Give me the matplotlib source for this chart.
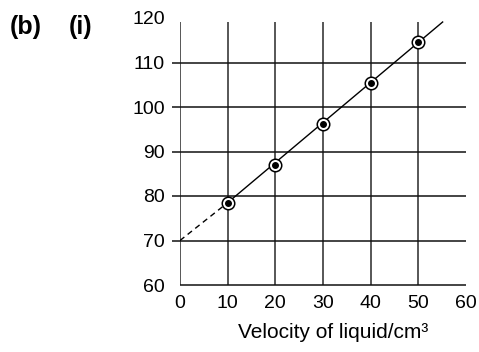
import matplotlib
matplotlib.use("Agg")
import matplotlib.pyplot as plt
import numpy as np

plt.rcParams['font.family'] = ['Liberation Sans', 'DejaVu Sans']

x_ticks = [0, 10, 20, 30, 40, 50, 60]
y_ticks = [60, 70, 80, 90, 100, 110, 120]
vel = [10, 20, 30, 40, 50]
vals = [78.5, 87.0, 96.2, 105.5, 114.5]
line_x = [10, 55.1]
line_y = [78.5, 119.1]
extrap_x = [0, 10]
extrap_y = [70, 78.5]

fig = plt.figure(figsize=(4.79, 3.52), dpi=100)
ax = fig.add_axes([180/479, 67/352, 286/479, 267/352])
ax.set_xlim(0, 60)
ax.set_ylim(60, 120)
for s in ax.spines.values():
    s.set_visible(False)

ytop = 119.1
# vertical grid lines
for xv in x_ticks[:-1]:
    ax.plot([xv, xv], [60, ytop], color='#3a3a3a', lw=1.2, zorder=1, solid_capstyle='butt')
# horizontal grid lines
for yv in y_ticks[:-1]:
    x0 = 0 if yv == 60 else -1.7
    ax.plot([x0, 60], [yv, yv], color='#111111', lw=1.1, zorder=1, clip_on=False, solid_capstyle='butt')

ax.plot(line_x, line_y, color='black', lw=1.0, zorder=2)
ax.plot(extrap_x, extrap_y, color='black', lw=1.0, ls=(0, (4, 3)), zorder=2)
ax.plot(vel, vals, ls='none', marker='o', ms=9, mfc='white', mec='black', mew=1.1, zorder=3)
ax.plot(vel, vals, ls='none', marker='o', ms=4, mfc='black', mec='black', zorder=4)

ax.set_xticks(x_ticks)
ax.set_yticks(y_ticks)
ax.tick_params(axis='both', length=0, labelsize=14, pad=7)
ax.tick_params(axis='y', pad=11)
ax.set_xlabel('Velocity of liquid/cm³', fontsize=15)
ax.xaxis.set_label_coords((333 - 180) / 286, -(332 - 285) / 267, transform=ax.transAxes)
ax.xaxis.label.set_va('center')

fig.text(10/479, 1 - 27/352, '(b)', fontsize=18, fontweight='bold', va='center', ha='left')
fig.text(69/479, 1 - 27/352, '(i)', fontsize=18, fontweight='bold', va='center', ha='left')

fig.savefig('out.png', dpi=100)
